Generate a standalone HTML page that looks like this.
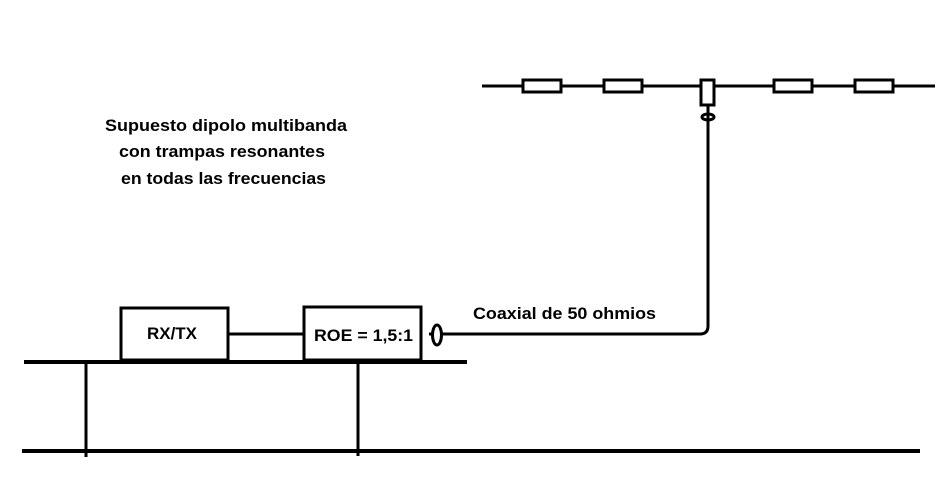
<!DOCTYPE html>
<html><head><meta charset="utf-8"><style>html,body{margin:0;padding:0;background:#fff}svg{display:block}</style></head>
<body>
<svg width="952" height="481" viewBox="0 0 952 481" xmlns="http://www.w3.org/2000/svg" font-family="Liberation Sans, sans-serif" font-weight="bold" font-size="17" fill="#000">
<g stroke="#000" fill="none">
<line x1="482" y1="86" x2="935" y2="86" stroke-width="3"/>
<g stroke-width="3" fill="#fff">
<rect x="523" y="80" width="38" height="12"/>
<rect x="604" y="80" width="38" height="12"/>
<rect x="774" y="80" width="38" height="12"/>
<rect x="855" y="80" width="38" height="12"/>
<rect x="701" y="80" width="13" height="25"/>
</g>
<ellipse cx="708" cy="117" rx="6" ry="3" stroke-width="3"/>
<path d="M708 105 V326 Q708 334 700 334 H429" stroke-width="3"/>
<ellipse cx="437" cy="335" rx="4.5" ry="10" stroke-width="3" fill="#fff"/>
<rect x="121" y="308" width="107" height="52" stroke-width="3"/>
<rect x="304" y="307" width="117" height="53" stroke-width="3"/>
<line x1="228" y1="334" x2="304" y2="334" stroke-width="3"/>
<line x1="24" y1="362" x2="467" y2="362" stroke-width="4"/>
<line x1="22" y1="451" x2="920" y2="451" stroke-width="4"/>
<line x1="86" y1="362" x2="86" y2="457" stroke-width="3"/>
<line x1="358" y1="362" x2="358" y2="456" stroke-width="3"/>
</g>
<text x="105" y="131" textLength="242" lengthAdjust="spacingAndGlyphs">Supuesto dipolo multibanda</text>
<text x="119" y="157" textLength="206" lengthAdjust="spacingAndGlyphs">con trampas resonantes</text>
<text x="121" y="184" textLength="205" lengthAdjust="spacingAndGlyphs">en todas las frecuencias</text>
<text x="147" y="339" textLength="50" lengthAdjust="spacingAndGlyphs">RX/TX</text>
<text x="314" y="341" textLength="99" lengthAdjust="spacingAndGlyphs">ROE = 1,5:1</text>
<text x="473" y="319" textLength="183" lengthAdjust="spacingAndGlyphs">Coaxial de 50 ohmios</text>
</svg>
</body></html>
